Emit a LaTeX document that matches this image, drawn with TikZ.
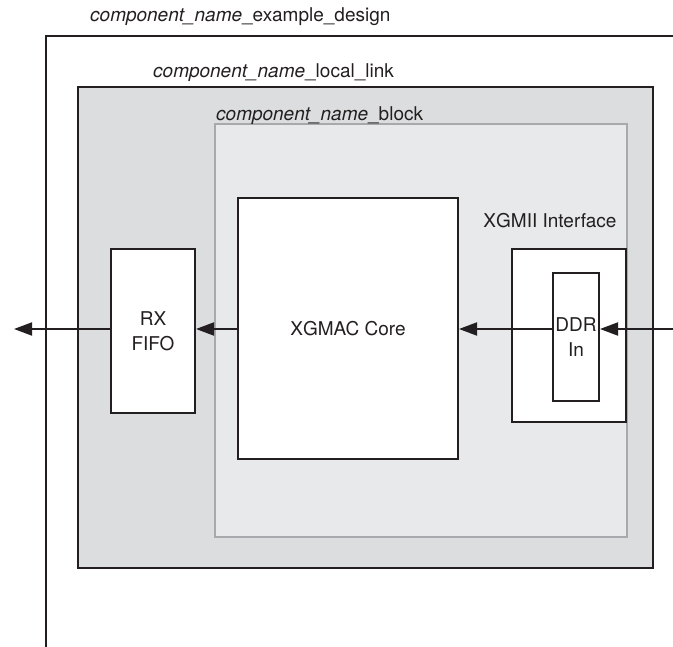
\documentclass[tikz,border=0pt]{standalone}
\usepackage{fontspec}
\setmainfont{TeX Gyre Heros}
\usetikzlibrary{arrows.meta, positioning}

\definecolor{outergray}{HTML}{DCDDDE}
\definecolor{innergray}{HTML}{E8E9EA}
\definecolor{edgegray}{HTML}{A7A9AC}
\definecolor{inkdark}{HTML}{231F20}

\begin{document}
\begin{tikzpicture}[
    x=1pt, y=-1pt,
    every node/.style={font=\fontsize{19}{25}\selectfont, text=inkdark, align=center},
    box/.style={draw=inkdark, line width=2pt, inner sep=0pt},
    blockbox/.style={draw=edgegray, line width=2pt, fill=innergray, inner sep=0pt},
    label/.style={anchor=base west, inner sep=0pt},
    arrow/.style={draw=inkdark, line width=2pt, -{Triangle[length=18pt, width=13pt]}}
]
\useasboundingbox (0,0) rectangle (673,647);

% outer design frame (open to the right and below)
\draw[inkdark, line width=2pt] (46,647) -- (46,36) -- (673,36);
\node[label] (designlbl) at (90,22) {\textit{component\_name}\_example\_design};

\node[box, fill=outergray, minimum width=575pt, minimum height=481pt] (locallink) at (365.5,327.5) {};
\node[label] (locallbl) at (153,78) {\textit{component\_name}\_local\_link};

\node[blockbox, minimum width=412pt, minimum height=413pt] (block) at (421,330.5) {};
\node[label] (blocklbl) at (216,121) {\textit{component\_name}\_block};

\node[box, fill=white, minimum width=220pt, minimum height=261pt] (core) at (348,328.5) {};
\node (corelbl) at (core.center) {XGMAC Core};
\node[box, fill=white, minimum width=84pt, minimum height=164pt] (fifo) at (153,331) {RX\\FIFO};

\node[box, fill=white, minimum width=114pt, minimum height=173pt] (xgmii) at (569,336) {};
\node[anchor=base, inner sep=0pt] (xgmiilbl) at (550,228) {XGMII Interface};
\node[box, fill=white, minimum width=46pt, minimum height=128pt] (ddr) at (576,337) {};
\node (ddrlbl) at (ddr.center) {DDR\\In};

\coordinate (rxout) at (14,329);
\coordinate (xgmiiin) at (673,329);

\draw[arrow] (xgmiiin) -- (ddr.east |- xgmiiin);
\draw[arrow] (ddr.west |- xgmiiin) -- (core.east |- xgmiiin);
\draw[arrow] (core.west |- xgmiiin) -- (fifo.east |- xgmiiin);
\draw[arrow] (fifo.west |- xgmiiin) -- (rxout);
\end{tikzpicture}
\end{document}
